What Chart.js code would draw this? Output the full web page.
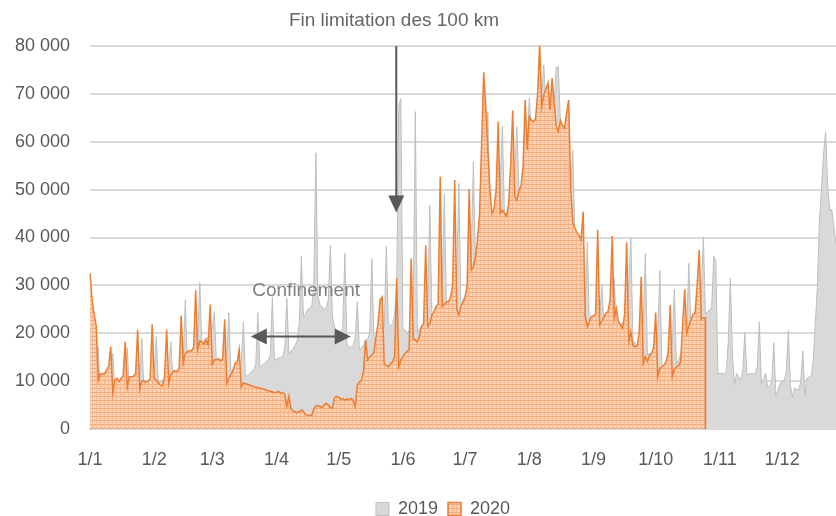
<!DOCTYPE html>
<html>
<head>
<meta charset="utf-8">
<script src="https://cdn.jsdelivr.net/npm/chart.js@4.4.1/dist/chart.umd.min.js"></script>
<style>
  html, body { margin: 0; padding: 0; background: #fff; }
</style>
</head>
<body>
<canvas id="myChart" width="836" height="516"></canvas>
<script>
// days shown per month (the picture is cut at 27 December)
var monthDays = [31, 28, 31, 30, 31, 30, 31, 31, 30, 31, 30, 27];

var values2019 = [
  18000, 13000, 11000, 10500, 17200, 7500, 9000, 9200, 9500, 9800, 10500, 15800, 7000, 8500, 9000, 9300,
  9500, 10500, 17000, 7800, 9200, 9500, 9800, 10000, 11000, 18900, 8500, 9500, 9800, 10000, 10500, 12000,
  19300, 9500, 10000, 10200, 10500, 11000, 12000, 18200, 10500, 11500, 12000, 12300, 13000, 14500, 26900, 14000,
  16000, 16500, 17000, 17500, 19000, 30600, 17000, 18500, 19000, 19000, 20000, 21000, 24500, 14000, 14200, 14400,
  14500, 15000, 16000, 24300, 12000, 12500, 12700, 13000, 13500, 14000, 22300, 10900, 11200, 11600, 12000, 12300,
  13500, 24300, 13000, 13300, 13600, 14000, 14400, 15500, 27600, 14400, 14600, 14800, 15000, 15100, 17000, 27300,
  15800, 16300, 16800, 17500, 18500, 22000, 36100, 23500, 24000, 24900, 25300, 25500, 30000, 57700, 27800, 26000,
  25500, 25000, 25300, 27000, 38400, 23500, 21400, 20000, 19000, 18500, 22000, 36700, 17500, 17200, 17000, 17500,
  19000, 26600, 16500, 17000, 17500, 18600, 18800, 20000, 35600, 19000, 18600, 19000, 19500, 20500, 21400, 38200,
  22000, 21500, 22000, 24000, 30000, 67500, 69000, 21000, 20700, 20000, 20500, 21000, 25000, 66300, 20000, 21000,
  21500, 22000, 23000, 28000, 46700, 23500, 24000, 24500, 25000, 26000, 30000, 49100, 24900, 25500, 26000, 26500,
  27000, 32000, 51300, 25000, 27000, 28000, 30000, 33000, 36000, 55800, 34600, 38000, 42000, 45000, 48000, 55000,
  66300, 45000, 44000, 44000, 44500, 46000, 52000, 63300, 45000, 45000, 46000, 47000, 48000, 54000, 63200, 50000,
  51000, 53000, 56000, 60000, 69100, 62000, 63000, 64000, 65000, 66000, 70000, 76000, 66000, 67000, 66000, 66000,
  68000, 75500, 75700, 64000, 60000, 58000, 55000, 52000, 50000, 58300, 40000, 36000, 33000, 30000, 28000, 26000,
  39100, 22000, 22500, 23000, 23500, 24000, 24000, 30100, 22000, 22500, 23000, 23000, 24000, 31500, 21000, 21500,
  22000, 22000, 22500, 24000, 30000, 40000, 18600, 18000, 17500, 17200, 17000, 22000, 36700, 15500, 15800, 15800,
  15500, 15000, 20000, 33100, 12500, 13000, 13000, 12800, 13000, 18000, 29200, 13500, 14500, 15500, 17000, 19000,
  22000, 34600, 21000, 22000, 22500, 23000, 23500, 28000, 40000, 24000, 24500, 25000, 25200, 36100, 35000, 11600,
  11600, 11600, 11600, 12000, 18000, 31500, 16000, 9200, 11600, 11000, 10200, 12000, 20200, 11300, 11500, 11600,
  11500, 11500, 13000, 22400, 9500, 10500, 11600, 8800, 8800, 10000, 18000, 6800, 8000, 9500, 9900, 10000,
  12000, 20500, 9000, 6800, 8500, 8300, 8100, 10000, 16300, 7100, 10600, 10800, 11000, 14400, 22000, 29700,
  43700, 50000, 57600, 62100, 50600, 45700, 45900, 42000, 38800
];

var values2020 = [
  32500, 27000, 24000, 21500, 10000, 11500, 11600, 11500, 12300, 13000, 17200, 7500, 10200, 10600, 9900, 10600,
  11000, 18200, 8800, 10900, 10900, 11000, 11500, 20700, 8300, 10000, 10100, 9800, 10000, 10500, 21900, 10600,
  10200, 9600, 9200, 9000, 11000, 20800, 9500, 11300, 12000, 12200, 12000, 12500, 23700, 13700, 15800, 16100,
  16400, 16300, 17000, 29000, 16500, 18400, 18200, 17700, 18600, 17500, 26000, 13500, 14400, 14500, 14700, 14200,
  14600, 22900, 9500, 10600, 11400, 12200, 13700, 13900, 16600, 8800, 9600, 9500, 9300, 9200, 9000, 8900,
  8700, 8600, 8500, 8400, 8300, 8200, 8000, 7900, 7800, 7600, 7700, 7800, 7500, 7600, 7200, 4700,
  6800, 4200, 3800, 3600, 3400, 3600, 4000, 3700, 3000, 2900, 2800, 2900, 4200, 4800, 4900, 4700,
  4500, 5000, 5400, 5000, 4500, 4400, 6500, 6800, 6600, 6200, 6400, 6000, 6300, 6100, 6400, 6000,
  4700, 9200, 9800, 10200, 12000, 18600, 14400, 15100, 15500, 16000, 19300, 22000, 27000, 27600, 13500, 13300,
  13000, 13700, 14000, 15100, 31500, 13000, 14400, 15100, 15800, 16200, 16500, 35600, 18900, 18600, 18200, 19500,
  21400, 22000, 38400, 21400, 22000, 23800, 24500, 25600, 26000, 52700, 25600, 26000, 26600, 26600, 27500, 30000,
  52000, 25000, 23800, 25600, 26500, 27300, 30000, 50100, 33200, 33900, 36000, 39500, 45000, 60000, 74500, 67300,
  58000, 49900, 45000, 46000, 50000, 64200, 45000, 45700, 45000, 44400, 47000, 55000, 66500, 48500, 47800, 49900,
  50600, 55000, 68700, 58300, 65200, 64500, 64200, 64800, 70000, 80400, 67300, 69800, 71000, 72300, 66600, 73300,
  68000, 63200, 62100, 64500, 63500, 62800, 66000, 68700, 50000, 43000, 42000, 41000, 40500, 39500, 45400, 23500,
  21400, 22500, 23500, 23600, 24000, 41600, 21700, 22500, 23500, 24200, 24500, 27000, 40300, 23100, 25200, 22400,
  21800, 21000, 24000, 39000, 18200, 20300, 17500, 17200, 17300, 20000, 31800, 13700, 15100, 14100, 15400, 15800,
  17000, 24300, 10900, 12700, 13000, 13400, 14000, 16000, 25900, 10900, 12500, 13000, 13200, 14000, 22000, 29200,
  20000, 21500, 22800, 24000, 24200, 30000, 37400, 22900, 23200, 23300
];

var yMax = 80000;
var yStep = 10000;

// day/month category labels
var days = [];
monthDays.forEach(function (n, m) {
  for (var d = 1; d <= n; d++) days.push(d + "/" + (m + 1));
});

var canvas = document.getElementById("myChart");
var ctx = canvas.getContext("2d");

function hatchFill() {
  var c = document.createElement("canvas");
  c.width = 4;
  c.height = 4;
  var g = c.getContext("2d");
  g.fillStyle = "#f9d2b7";
  g.fillRect(0, 0, 4, 4);
  g.fillStyle = "#f4a975";
  g.fillRect(0, 0, 4, 1);
  g.fillStyle = "#f6b78c";
  g.fillRect(0, 0, 1, 4);
  return ctx.createPattern(c, "repeat");
}

function spaced(v) {
  return String(v).replace(/\B(?=(\d{3})+(?!\d))/g, " ");
}

function arrowHead(g, tx, ty, dx, dy, len, half) {
  g.beginPath();
  g.moveTo(tx, ty);
  g.lineTo(tx - dx * len - dy * half, ty - dy * len + dx * half);
  g.lineTo(tx - dx * len + dy * half, ty - dy * len - dx * half);
  g.closePath();
  g.fill();
}

// text boxes and arrows drawn on top, placed in data units
var notes = {
  id: "notes",
  afterLayout: function (chart) {
    var l = chart.legend;
    l.left += 25; l.right += 25;
    l.top += 12; l.bottom += 12;
  },
  afterDatasetsDraw: function (chart) {
    var g = chart.ctx, x = chart.scales.x, y = chart.scales.y;
    g.save();

    // closing edge of the 2020 area
    var last = values2020.length - 1;
    g.strokeStyle = "#ed7d31";
    g.lineWidth = 1.5;
    g.beginPath();
    g.moveTo(x.getPixelForValue(last), y.getPixelForValue(values2020[last]));
    g.lineTo(x.getPixelForValue(last), y.getPixelForValue(0));
    g.stroke();

    g.strokeStyle = "#595959";
    g.fillStyle = "#595959";
    g.lineWidth = 2;

    // "Fin limitation" arrow
    var ax = x.getPixelForValue(147.8);
    var aTop = y.getPixelForValue(yMax);
    var aTip = y.getPixelForValue(45200);
    g.beginPath();
    g.moveTo(ax, aTop);
    g.lineTo(ax, aTip - 12);
    g.stroke();
    arrowHead(g, ax, aTip, 0, 1, 17, 8);

    // Confinement double arrow
    var x1 = x.getPixelForValue(77.6), x2 = x.getPixelForValue(125.8);
    var cy = y.getPixelForValue(19300);
    g.beginPath();
    g.moveTo(x1 + 10, cy);
    g.lineTo(x2 - 10, cy);
    g.stroke();
    arrowHead(g, x1, cy, -1, 0, 16, 8);
    arrowHead(g, x2, cy, 1, 0, 16, 8);

    g.textAlign = "center";
    g.textBaseline = "middle";
    g.font = "19px 'Liberation Sans'";
    g.fillStyle = "#7f7f7f";
    g.fillText("Confinement", x.getPixelForValue(104.3), y.getPixelForValue(28800));
    g.font = "19px 'Liberation Sans'";
    g.fillStyle = "#666666";
    g.fillText("Fin limitation des 100 km", x.getPixelForValue(146.7), y.getPixelForValue(85200));
    g.restore();
  }
};

var tickFont = { family: "'Liberation Sans', Arial, sans-serif", size: 18 };

new Chart(ctx, {
  type: "line",
  data: {
    labels: days,
    datasets: [
      {
        label: "2020",
        data: values2020,
        borderColor: "#ed7d31",
        borderWidth: 1.5,
        backgroundColor: hatchFill(),
        fill: "origin",
        pointRadius: 0,
        tension: 0
      },
      {
        label: "2019",
        data: values2019,
        borderColor: "#bfbfbf",
        borderWidth: 1,
        backgroundColor: "#d9d9d9",
        fill: "origin",
        pointRadius: 0,
        tension: 0
      }
    ]
  },
  options: {
    responsive: false,
    animation: false,
    layout: { padding: { top: 46, left: 0, right: 0, bottom: 0 } },
    plugins: {
      legend: {
        position: "bottom",
        reverse: true,
        labels: {
          boxWidth: 13,
          boxHeight: 13,
          padding: 10,
          color: "#595959",
          font: tickFont
        }
      },
      tooltip: { enabled: false }
    },
    scales: {
      x: {
        grid: { display: false },
        border: { display: true, color: "#d9d9d9", width: 2 },
        ticks: {
          autoSkip: false,
          maxRotation: 0,
          minRotation: 0,
          padding: 12,
          color: "#595959",
          font: tickFont,
          callback: function (v, i) {
            return days[i].indexOf("1/") === 0 ? days[i] : "";
          }
        },
        afterFit: function (s) {
          s.height = 49;
          s.paddingLeft = 0;
          s.paddingRight = 0;
        }
      },
      y: {
        min: 0,
        max: yMax,
        grid: { color: "#d9d9d9", lineWidth: 2, drawTicks: false },
        border: { display: false },
        ticks: {
          stepSize: yStep,
          padding: 20,
          color: "#595959",
          font: tickFont,
          callback: function (v) { return spaced(v); }
        },
        afterFit: function (s) { s.width = 90; }
      }
    }
  },
  plugins: [notes]
});
</script>
</body>
</html>
